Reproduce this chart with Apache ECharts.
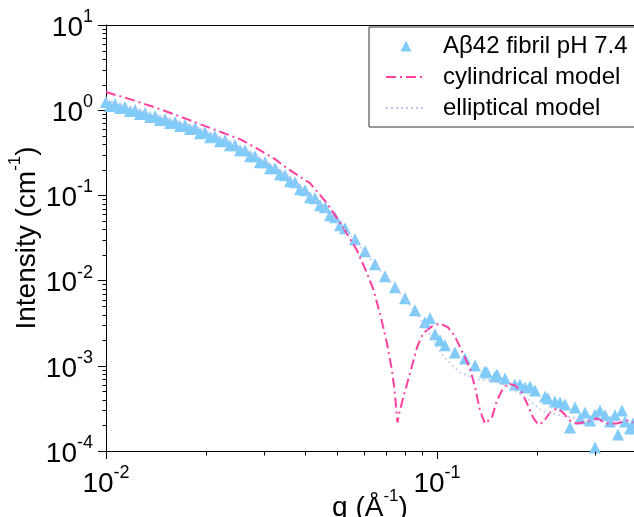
<!DOCTYPE html>
<html>
<head>
<meta charset="utf-8">
<script src="https://cdn.jsdelivr.net/npm/echarts@6/dist/echarts.min.js"></script>
<style>
  html, body { margin: 0; padding: 0; background: #fff; }
  #chart { width: 634px; height: 517px; }
</style>
</head>
<body>
<div id="chart"></div>
<script>
// measured data, Aβ42 fibril pH 7.4
const dataQ = [
	0.01000, 0.01065, 0.01141, 0.01224, 0.01312, 0.01406, 0.01507, 0.01616, 0.01732, 0.01857,
	0.01991, 0.02134, 0.02288, 0.02453, 0.02630, 0.02819, 0.03022, 0.03240, 0.03473, 0.03724,
	0.03992, 0.04279, 0.04588, 0.04918, 0.05272, 0.05652, 0.06059, 0.06496, 0.06964, 0.07466,
	0.08003, 0.08580, 0.09198, 0.09862, 0.1057, 0.1133, 0.1215, 0.1303, 0.1396, 0.1497,
	0.1605, 0.1720, 0.1844, 0.1977, 0.2120, 0.2272, 0.2436, 0.2612, 0.2800, 0.3002,
	0.3218, 0.3450, 0.3698, 0.3909,
	0.01028, 0.01102, 0.01182, 0.01267, 0.01358, 0.01456, 0.01561, 0.01673, 0.01794, 0.01923,
	0.02062, 0.02210, 0.02369, 0.02540, 0.02723, 0.02919, 0.03130, 0.03355, 0.03596, 0.03855,
	0.04133, 0.04431, 0.04750, 0.05092,
	0.09525, 0.1021, 0.1416, 0.1518, 0.1781, 0.1910, 0.2165, 0.2353, 0.2522, 0.2704,
	0.2899, 0.3002, 0.3108, 0.3332, 0.3522, 0.3622, 0.3829
];
const dataI = [
	1.245, 1.179, 1.087, 1.003, 0.9245, 0.8525, 0.7860, 0.7248, 0.6683, 0.6162,
	0.5529, 0.4962, 0.4452, 0.3889, 0.3397, 0.2887, 0.2455, 0.2087, 0.1727, 0.1429,
	0.1151, 0.09271, 0.07266, 0.05543, 0.04117, 0.03056, 0.02209, 0.01554, 0.01123, 0.008343,
	0.006194, 0.004477, 0.003236, 0.002339, 0.001737, 0.001437, 0.001222, 0.001011, 0.000859, 0.000750,
	0.000711, 0.000605, 0.000558, 0.000514, 0.000437, 0.000382, 0.000352, 0.000324, 0.000283, 0.000268,
	0.000262, 0.000262, 0.000222, 0.000210,
	1.117, 1.058, 0.9759, 0.900, 0.8296, 0.7652, 0.7054, 0.6505, 0.5997, 0.5381,
	0.4829, 0.4333, 0.3889, 0.3397, 0.2887, 0.2455, 0.2087, 0.1775, 0.1469, 0.1183,
	0.09524, 0.07670, 0.05852, 0.04466,
	0.003606, 0.001988, 0.000837, 0.000792, 0.000605, 0.000573, 0.000414, 0.000371, 0.000189, 0.000241,
	0.000228, 0.000110, 0.000299, 0.000222, 0.000156, 0.000299, 0.000184
];

// cylindrical model
const cylQ = [
	0.01000, 0.01207, 0.01456, 0.01757, 0.02106, 0.02540, 0.02919, 0.03240, 0.03522, 0.04133,
	0.04652, 0.05200, 0.05731, 0.06144, 0.06406, 0.06725, 0.07062, 0.07311, 0.07414, 0.07518,
	0.07596, 0.07703, 0.07893, 0.08286, 0.08700, 0.09071, 0.09659, 0.1021, 0.1080, 0.1133,
	0.1198, 0.1258, 0.1303, 0.1349, 0.1396, 0.1466, 0.1518, 0.1572, 0.1639, 0.1720,
	0.1806, 0.1883, 0.1950, 0.2019, 0.2090, 0.2195, 0.2304, 0.2402, 0.2522, 0.2648,
	0.2761, 0.3044, 0.3263, 0.3498, 0.3750, 0.3909
];
const cylI = [
	1.632, 1.314, 1.030, 0.7860, 0.5997, 0.4575, 0.3397, 0.2663, 0.2087, 0.1391,
	0.08099, 0.04229, 0.02270, 0.01218, 0.008118, 0.004127, 0.001834, 0.000883, 0.000589, 0.000342,
	0.000216, 0.000283, 0.000414, 0.000814, 0.001645, 0.002402, 0.002904, 0.003149, 0.002826, 0.002216,
	0.001398, 0.000932, 0.000558, 0.000299, 0.000210, 0.000248, 0.000392, 0.000514, 0.000621, 0.000589,
	0.000487, 0.000342, 0.000248, 0.000205, 0.000216, 0.000283, 0.000316, 0.000283, 0.000228, 0.000210,
	0.000216, 0.000241, 0.000210, 0.000210, 0.000228, 0.000216
];

// elliptical model
const ellQ = [
	0.01000, 0.01358, 0.01923, 0.02723, 0.03355, 0.03855, 0.04431, 0.05092, 0.05852, 0.06725,
	0.07730, 0.08580, 0.09262, 0.09862, 0.1043, 0.1110, 0.1174, 0.1321, 0.1476, 0.1662,
	0.1870, 0.2090, 0.2353, 0.2648, 0.3044, 0.3498, 0.3909
];
const ellI = [
	1.314, 0.9245, 0.6162, 0.3218, 0.1978, 0.1215, 0.07883, 0.04587, 0.02530, 0.01321,
	0.007091, 0.004357, 0.002826, 0.001834, 0.001325, 0.001011, 0.000837, 0.000692, 0.000674, 0.000558,
	0.000414, 0.000291, 0.000262, 0.000241, 0.000228, 0.000228, 0.000228
];

// minor ticks of the log axes
const xMinorTicks = [0.02, 0.03, 0.04, 0.05, 0.06, 0.07, 0.08, 0.09, 0.2, 0.3];
const yMinorTicks = [];
[1e-4, 1e-3, 1e-2, 1e-1, 1].forEach(function (d) {
	for (let k = 2; k <= 9; k++) yMinorTicks.push(+(k * d).toPrecision(3));
});

const FONT = '"Liberation Sans", Arial, sans-serif';
const X_MIN = 0.01, X_MAX = 0.3937, Y_MIN = 1e-4, Y_MAX = 10;

// legend triangle: the two empty moves keep the icon box 40 x 11 so the triangle is not stretched
const LEGEND_TRIANGLE = 'path://M0,0L0,0M40,11L40,11M14.5,11L20,0L25.5,11Z';

function zip(a, b) {
	return a.map(function (v, i) { return [v, b[i]]; });
}

function powLabel(v) {
	const e = Math.log10(v);
	if (Math.abs(e - Math.round(e)) > 1e-6) return '';
	return '{n|10}{s|' + Math.round(e) + '}';
}

const powRich = {
	n: { fontSize: 28, fontFamily: FONT, color: '#000', lineHeight: 34, verticalAlign: 'bottom' },
	s: { fontSize: 18, fontFamily: FONT, color: '#000', lineHeight: 18, verticalAlign: 'top' }
};
const nameRich = {
	n: { fontSize: 28, fontFamily: FONT, color: '#000', lineHeight: 34, verticalAlign: 'bottom' },
	s: { fontSize: 17, fontFamily: FONT, color: '#000', lineHeight: 18, verticalAlign: 'top' }
};

// small outward ticks, placed through the axes
function minorTick(horizontal) {
	return function (params, api) {
		const p = api.coord([api.value(0), api.value(1)]);
		const x = Math.round(p[0]) + 0.5, y = Math.round(p[1]) + 0.5;
		return {
			type: 'line',
			shape: horizontal ? { x1: x, y1: y, x2: x, y2: y + 4 } : { x1: x - 4, y1: y, x2: x, y2: y },
			style: { stroke: '#000', lineWidth: 1 }
		};
	};
}

const chart = echarts.init(document.getElementById('chart'), null, { renderer: 'canvas' });

chart.setOption({
	animation: false,
	backgroundColor: '#fff',
	grid: { left: 106, top: 25, right: 0, bottom: 66, outerBoundsMode: 'none' },
	legend: {
		orient: 'vertical',
		left: 369,
		top: 27,
		align: 'left',
		padding: [7, 8, 7, 16],
		borderColor: '#333',
		borderWidth: 1,
		itemWidth: 40,
		itemHeight: 11,
		itemGap: 7,
		textStyle: { fontSize: 24, fontFamily: FONT, color: '#000', padding: [0, 0, 0, 12] },
		data: [
			{ name: 'Aβ42 fibril pH 7.4', icon: LEGEND_TRIANGLE },
			{ name: 'cylindrical model', itemStyle: { opacity: 0 } },
			{ name: 'elliptical model', itemStyle: { opacity: 0 } }
		]
	},
	xAxis: [
		{
			type: 'log',
			min: X_MIN,
			max: X_MAX,
			logBase: 10,
			name: '{n|q (Å}{s|-1}{n|)}',
			nameLocation: 'middle',
			nameGap: 37,
			nameMoveOverlap: false,
			nameTextStyle: { rich: nameRich },
			axisLine: { lineStyle: { color: '#000', width: 1 } },
			axisTick: { inside: false, length: 8, lineStyle: { color: '#000' } },
			axisLabel: { margin: 13, formatter: powLabel, rich: powRich },
			splitLine: { show: false }
		},
		{
			type: 'log',
			position: 'top',
			min: X_MIN,
			max: X_MAX,
			axisLine: { lineStyle: { color: '#000', width: 1 } },
			axisTick: { show: false },
			axisLabel: { show: false },
			splitLine: { show: false }
		}
	],
	yAxis: {
		type: 'log',
		min: Y_MIN,
		max: Y_MAX,
		logBase: 10,
		interval: 1,
		name: '{n|Intensity (cm}{s|-1}{n|)}',
		nameLocation: 'middle',
		nameGap: 65,
		nameMoveOverlap: false,
		nameTextStyle: { rich: nameRich },
		axisLine: { show: true, lineStyle: { color: '#000', width: 1 } },
		axisTick: { show: true, inside: false, length: 8, lineStyle: { color: '#000' } },
		axisLabel: { margin: 13, formatter: powLabel, rich: powRich },
		splitLine: { show: false }
	},
	series: [
		{
			name: 'Aβ42 fibril pH 7.4',
			type: 'scatter',
			symbol: 'triangle',
			symbolSize: 12,
			itemStyle: { color: '#80cbf8', opacity: 1 },
			data: zip(dataQ, dataI),
			z: 2
		},
		{
			name: 'cylindrical model',
			type: 'line',
			symbol: 'none',
			lineStyle: { color: '#ff3fa0', width: 2, type: [10, 4, 2, 4] },
			itemStyle: { color: '#ff3fa0' },
			data: zip(cylQ, cylI),
			z: 3
		},
		{
			name: 'elliptical model',
			type: 'line',
			symbol: 'none',
			lineStyle: { color: '#c4c4f4', width: 1.5, type: [2, 3] },
			itemStyle: { color: '#c4c4f4' },
			data: zip(ellQ, ellI),
			z: 4
		},
		{
			name: 'xminor',
			type: 'custom',
			silent: true,
			renderItem: minorTick(true),
			data: xMinorTicks.map(function (v) { return [v, Y_MIN]; }),
			z: 5
		},
		{
			name: 'yminor',
			type: 'custom',
			silent: true,
			renderItem: minorTick(false),
			data: yMinorTicks.map(function (v) { return [X_MIN, v]; }),
			z: 5
		}
	]
});
</script>
</body>
</html>
